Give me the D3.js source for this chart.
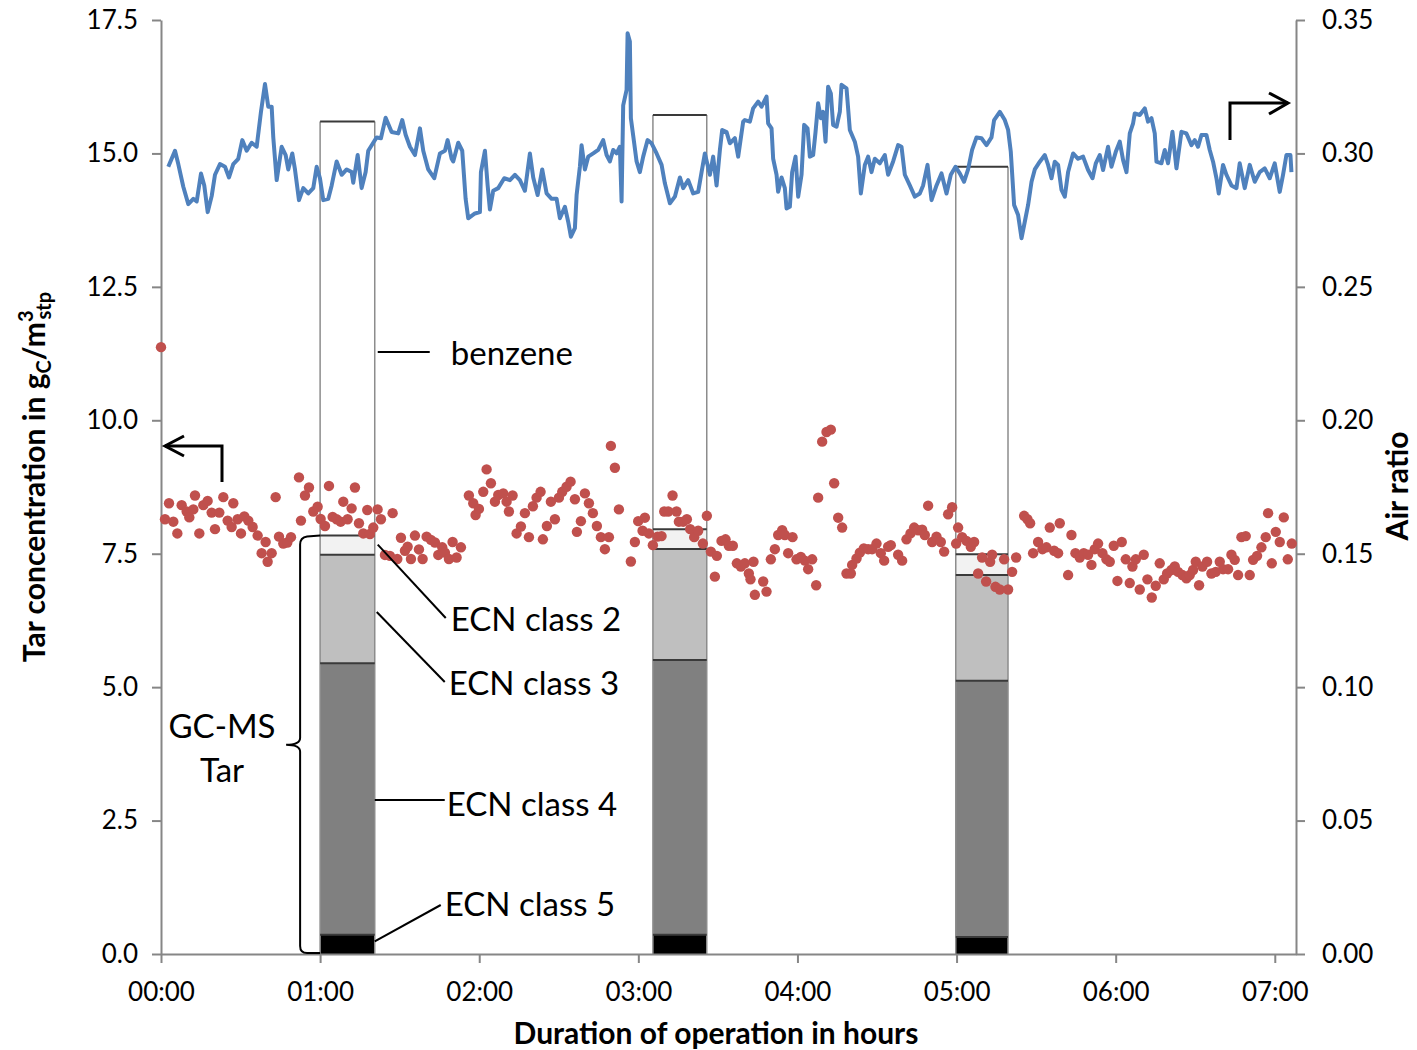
<!DOCTYPE html>
<html>
	<head>
		<title>Tar and air ratio</title>
		<style>
			body, html { margin: 0; padding: 0; background: #fff; }
			text { font-family: Lato, 'Open Sans', sans-serif; }
		</style>
	</head>
	<body>

		<svg id="svg" width="1417" height="1050"></svg>

		<script src="https://d3js.org/d3.v7.min.js"></script>
		<script>
			// Air ratio (blue line) - time in minutes
			const airTime = [2.75,5.28,6.52,8.41,10.29,12.18,13.46,15.08,16.32,17.61,19.11,20.36,22.24,24.13,25.64,27.26,29.14,30.65,32.31,34.19,36.08,37.7,39.21,40.45,41.73,42.34,43.62,45.5,47.01,47.99,49.5,50.52,52.03,53.65,55.53,57.42,58.7,59.94,61.19,63.07,64.36,66.24,68.13,70.01,71.9,72.5,74.16,75.66,77.17,78.15,80.04,81.32,82.94,84.71,86.97,89.46,90.97,92.25,93.87,95.76,97.64,98.89,100.77,103.04,105.18,107.07,108.09,109.6,
				110.2,112.08,113.59,114.87,115.85,118.38,120.26,120.64,122.15,123.17,124.03,125.28,127.16,129.43,131.57,133.46,135.34,137.23,139.11,140.36,142.02,143.75,145.41,147.3,149.18,150.42,152.31,153.55,154.57,156.08,156.72,157.96,158.6,159.85,161.1,162.98,164.87,166.75,168.03,169.27,170.52,171.8,173.04,173.68,174.29,175.57,175.95,176.81,177.19,178.44,179.34,180.58,181.83,183.49,185.0,186.89,188.77,190.01,191.9,193.78,195.67,196.91,198.8,200.68,202.57,203.85,205.09,206.98,208.22,209.5,210.75,211.62,213.28,214.52,216.4,217.65,219.53,
				220.17,222.05,223.3,225.18,226.46,228.35,228.95,230.23,230.84,232.12,232.72,234.0,235.25,235.89,237.13,238.0,239.28,240.27,241.54,242.53,243.81,244.67,245.92,246.82,247.8,248.82,249.69,250.59,251.57,252.59,253.46,254.74,255.98,256.62,258.51,259.75,261.64,262.88,263.9,265.41,266.65,267.93,269.18,271.06,272.95,274.19,276.08,277.96,279.24,280.49,282.37,284.26,286.14,287.39,289.05,290.56,292.44,294.32,296.21,297.83,299.6,301.22,302.84,304.35,305.86,307.52,309.4,311.29,313.17,314.16,316.31,318.19,319.44,320.45,321.7,323.21,324.49,325.73,326.98,328.27,329.5,
				331.39,333.28,334.52,335.8,337.04,338.29,339.57,340.81,342.06,343.94,345.83,347.71,349.6,351.27,352.5,354.0,355.25,357.13,358.41,360.04,361.54,362.8,364.08,365.32,366.57,367.2,369.08,370.97,372.21,373.5,374.74,375.38,377.26,378.51,379.75,381.41,382.92,384.8,386.69,388.57,389.82,391.06,392.34,394.23,395.47,396.72,398.0,398.87,400.49,401.77,403.65,405.54,406.78,408.67,410.55,412.44,414.32,416.21,418.09,419.98,421.86,423.11,424.39,425.9,426.28]
			const airRatio = [0.295,0.301,0.296,0.2875,0.281,0.283,0.282,0.2925,0.288,0.278,0.284,0.292,0.296,0.295,0.291,0.296,0.298,0.305,0.301,0.304,0.3025,0.3156,0.326,0.3175,0.3175,0.306,0.290,0.3025,0.2994,0.294,0.300,0.294,0.2825,0.287,0.285,0.287,0.295,0.2907,0.2825,0.283,0.288,0.297,0.292,0.294,0.293,0.289,0.2994,0.287,0.293,0.301,0.304,0.306,0.3057,0.3134,0.308,0.3075,0.3125,0.307,0.3025,0.2994,0.3094,0.301,0.294,0.2907,0.300,0.301,0.305,0.298,
				0.297,0.304,0.301,0.283,0.2757,0.2775,0.278,0.293,0.301,0.288,0.279,0.286,0.287,0.2907,0.290,0.292,0.290,0.286,0.300,0.291,0.2844,0.294,0.285,0.283,0.283,0.2757,0.280,0.2744,0.2688,0.272,0.2844,0.295,0.3031,0.294,0.2988,0.300,0.3013,0.305,0.2994,0.297,0.3013,0.300,0.3025,0.282,0.318,0.3238,0.345,0.3419,0.3132,0.3038,0.297,0.293,0.2988,0.305,0.3038,0.300,0.2957,0.2888,0.2813,0.2838,0.291,0.287,0.290,0.285,0.2856,0.293,0.300,0.292,0.2988,0.288,0.3013,0.3088,0.308,0.3038,0.3057,0.2988,0.3119,
				0.3125,0.3119,0.3169,0.3194,0.3175,0.3213,0.3113,0.3094,0.298,0.292,0.2856,0.291,0.287,0.2794,0.280,0.293,0.2988,0.2838,0.292,0.3107,0.3094,0.2988,0.2994,0.308,0.3188,0.3132,0.3156,0.3044,0.325,0.3225,0.3107,0.310,0.3156,0.3257,0.3244,0.3088,0.3044,0.2988,0.285,0.2957,0.2988,0.293,0.298,0.2963,0.2994,0.292,0.297,0.3031,0.3025,0.292,0.288,0.2838,0.285,0.288,0.2957,0.2825,0.288,0.2925,0.285,0.292,0.295,0.2925,0.2894,0.294,0.3013,0.306,0.3057,0.3031,0.306,0.3125,0.3156,0.3125,0.3088,0.3006,0.2807,0.2769,0.2682,0.2744,0.2807,0.2894,0.294,
				0.2969,0.2994,0.2957,0.2907,0.2969,0.2957,0.2863,0.2838,0.293,0.300,0.298,0.2988,0.2938,0.2907,0.2963,0.2994,0.2938,0.3025,0.295,0.3006,0.3044,0.2975,0.293,0.3075,0.3113,0.315,0.3144,0.3169,0.3119,0.3132,0.3075,0.2969,0.2963,0.3013,0.2963,0.3081,0.2944,0.3081,0.3075,0.3031,0.305,0.3025,0.3069,0.3069,0.3013,0.2969,0.2907,0.285,0.2957,0.292,0.288,0.287,0.2963,0.287,0.2957,0.2894,0.293,0.2944,0.2907,0.2963,0.2856,0.292,0.2994,0.2994,0.293]

			// Tar concentration (red dots) - time in minutes, g/m3
			const tarTime = [0,1.51,3.02,4.65,6.16,7.79,9.68,10.68,12.19,12.82,14.45,15.96,17.59,19.1,20.36,21.99,23.5,25.13,26.64,27.27,28.9,30.16,31.42,32.92,34.56,36.44,37.95,39.46,40.21,41.72,43.23,44.49,46.12,47.63,49.01,52.03,52.78,54.29,55.8,57.43,59.06,60.19,61.83,63.34,64.72,66.23,67.74,68.74,70.37,71.88,73.14,74.65,76.28,77.79,78.79,80.05,81.68,82.94,84.45,86.33,87.34,89.1,90.48,91.99,93.0,94.25,95.76,97.27,98.65,100.16,101.79,103.3,104.55,106.06,107.07,108.58,109.96,111.47,113.1,
				116.1,117.75,118.63,119.89,121.52,122.78,124.41,125.92,127.17,129.06,130.32,131.2,132.58,134.09,135.72,137.23,138.74,140.24,141.63,143.14,144.01,145.52,147.03,148.54,150.05,151.3,152.94,154.45,156.08,156.83,158.34,159.85,161.36,162.86,164.37,165.88,167.39,168.9,169.65,171.16,172.67,177.19,178.7,179.95,181.59,182.47,183.98,185.48,187.24,188.75,189.76,191.27,192.9,194.41,195.29,196.92,198.3,199.56,201.07,202.57,204.33,205.84,207.35,208.86,209.61,211.37,212.88,214.14,215.64,217.15,218.66,220.17,221.67,222.3,223.43,223.94,
				227.08,228.34,229.97,231.48,232.73,234.24,235.25,236.5,238.14,239.65,241.28,242.79,244.04,245.55,247.06,247.81,249.32,250.96,252.59,253.85,255.36,256.86,258.5,260.13,260.63,262.27,263.52,265.03,266.66,268.17,269.81,271.44,272.7,274.2,275.21,277.97,279.48,281.12,282.63,284.01,285.52,287.03,288.03,289.28,290.79,292.43,294.06,295.32,296.82,298.33,299.84,300.59,302.1,303.74,305.37,306.63,308.13,309.64,311.15,312.66,313.41,314.67,316.3,317.94,319.44,320.95,322.46,325.48,326.73,327.74,328.87,
				330.75,332.39,333.9,335.15,336.79,338.29,338.92,342.06,343.32,344.83,346.46,347.97,349.6,350.86,352.11,353.37,355.01,356.52,357.77,359.28,360.66,362.3,363.81,365.31,366.32,367.58,369.08,370.59,371.97,373.61,375.11,376.62,378.13,379.39,381.02,382.28,383.54,385.17,386.68,387.93,389.19,390.2,391.45,392.71,394.47,396.1,397.74,399.25,400.5,402.39,403.65,404.9,406.16,407.42,409.05,410.56,411.82,413.32,414.96,416.59,417.47,418.87,420.37,421.88,423.39,424.9,426.41]
			const tarConc = [11.37,8.145,8.445,8.10,7.88,8.41,8.29,8.18,8.33,8.59,7.88,8.41,8.49,8.27,7.96,8.27,8.56,8.12,8.0,8.445,8.145,7.88,8.2,8.12,8.0,7.84,7.51,7.72,7.35,7.51,8.56,7.82,7.69,7.71,7.81,8.93,8.12,8.59,8.74,8.29,8.38,8.15,8.02,8.77,8.19,8.145,8.10,8.475,8.145,8.35,8.74,8.07,7.88,8.32,7.87,7.99,8.33,8.145,7.477,7.46,8.26,7.40,7.80,7.555,7.63,7.40,7.84,7.58,7.40,7.82,7.76,7.71,7.477,7.62,7.52,7.40,7.72,7.43,7.62,
				8.59,8.445,8.225,8.34,8.66,9.08,8.82,8.475,8.60,8.63,8.475,8.29,8.59,7.88,8.01,8.26,7.81,8.39,8.55,8.66,7.77,8.02,8.475,8.145,8.55,8.66,8.755,8.85,8.52,7.91,8.11,8.63,8.445,8.26,8.02,7.81,7.585,7.81,9.52,9.11,8.33,7.355,7.72,8.11,7.93,8.175,7.88,7.66,7.82,7.83,8.29,8.29,8.59,8.29,8.10,8.10,8.145,7.96,7.81,7.93,7.69,8.21,7.54,7.07,7.46,7.74,7.77,7.65,7.65,7.32,7.26,7.32,7.13,7.02,7.35,6.73,
				6.98,6.79,7.395,7.585,7.85,7.94,7.85,7.51,7.81,7.395,7.44,7.37,7.21,7.395,6.91,8.55,9.60,9.78,9.825,8.82,8.175,7.99,7.13,7.13,7.29,7.41,7.52,7.60,7.585,7.585,7.69,7.51,7.37,7.63,7.66,7.48,7.37,7.77,7.88,7.99,7.94,7.95,7.85,8.40,7.72,7.82,7.72,7.54,8.24,8.37,7.69,7.99,7.81,7.74,7.63,7.72,7.13,7.43,6.98,7.35,7.48,6.88,6.83,7.395,6.83,7.16,7.43,8.21,8.145,8.07,7.51,
				7.72,7.585,7.62,7.99,7.555,7.51,8.07,7.10,7.85,7.51,7.43,7.51,7.48,7.29,7.585,7.69,7.51,7.395,7.35,7.65,6.99,7.72,7.395,6.95,7.26,7.395,6.83,7.48,7.02,6.68,6.90,7.32,7.02,7.13,7.195,7.26,7.16,7.10,7.04,7.10,7.195,7.35,6.91,7.26,7.35,7.13,7.16,7.35,7.21,7.21,7.48,7.385,7.10,7.81,7.83,7.10,7.385,7.46,7.62,7.81,8.26,7.32,7.91,7.72,8.18,7.395,7.69]

			// GC-MS samples (stacked bars), start/end in minutes
			const sampleStart = [60, 185.5, 299.7]
			const sampleEnd = [80.6, 205.8, 319.4]
			const ecn5 = [0.36, 0.36, 0.32]
			const ecn4 = [5.09, 5.15, 4.80]
			const ecn3 = [2.03, 2.08, 1.98]
			const ecn2 = [0.36, 0.37, 0.39]
			const benzene = [7.76, 7.76, 7.26]

			const hourTicks = [0, 60, 120, 180, 240, 300, 360, 420]
			const tarTicks = [0, 2.5, 5, 7.5, 10, 12.5, 15, 17.5]
			const airTicks = [0, 0.05, 0.10, 0.15, 0.20, 0.25, 0.30, 0.35]

			const svg = d3.select('#svg')

			const x = d3.scaleLinear().domain([0, 428]).range([161, 1296])
			const yL = d3.scaleLinear().domain([0, 17.5]).range([954, 20])
			const yR = d3.scaleLinear().domain([0, 0.35]).range([954, 20])

			const axisGrey = '#868686'

			// Stacked bars
			const keys = ['ecn5', 'ecn4', 'ecn3', 'ecn2', 'benzene']
			const fills = { ecn5: '#000000', ecn4: '#808080', ecn3: '#bfbfbf', ecn2: '#f2f2f2', benzene: '#ffffff' }
			const rows = sampleStart.map((s, i) => ({
				start: s, end: sampleEnd[i],
				ecn5: ecn5[i], ecn4: ecn4[i], ecn3: ecn3[i], ecn2: ecn2[i], benzene: benzene[i]
			}))
			const stacked = d3.stack().keys(keys)(rows)

			const bars = svg.append('g')
			stacked.forEach(layer => {
				bars.selectAll(null)
					.data(layer)
					.enter()
					.append('rect')
					.attr('x', d => x(d.data.start))
					.attr('width', d => x(d.data.end) - x(d.data.start))
					.attr('y', d => yL(d[1]))
					.attr('height', d => yL(d[0]) - yL(d[1]))
					.attr('fill', fills[layer.key])
			})
			// sides
			rows.forEach(r => {
				const top = yL(r.ecn5 + r.ecn4 + r.ecn3 + r.ecn2 + r.benzene)
				;[r.start, r.end].forEach(t => {
					bars.append('line')
						.attr('x1', x(t)).attr('x2', x(t))
						.attr('y1', top).attr('y2', yL(0))
						.attr('stroke', '#8c8c8c').attr('stroke-width', 1.5)
				})
			})
			// segment top edges
			stacked.forEach(layer => {
				bars.selectAll(null)
					.data(layer)
					.enter()
					.append('line')
					.attr('x1', d => x(d.data.start))
					.attr('x2', d => x(d.data.end))
					.attr('y1', d => yL(d[1]))
					.attr('y2', d => yL(d[1]))
					.attr('stroke', '#3a3a3a')
					.attr('stroke-width', 2)
			})

			// Axes
			const fmtHour = m => d3.format('02d')(m / 60) + ':00'

			const gx = svg.append('g')
				.attr('transform', 'translate(0,954)')
				.call(d3.axisBottom(x).tickValues(hourTicks).tickFormat(fmtHour).tickSize(9).tickSizeOuter(0).tickPadding(20))
			const gl = svg.append('g')
				.attr('transform', 'translate(161,0)')
				.call(d3.axisLeft(yL).tickValues(tarTicks).tickFormat(d3.format('.1f')).tickSize(9).tickSizeOuter(0).tickPadding(14))
			const gr = svg.append('g')
				.attr('transform', 'translate(1296,0)')
				.call(d3.axisRight(yR).tickValues(airTicks).tickFormat(d3.format('.2f')).tickSize(9).tickSizeOuter(0).tickPadding(17))

			;[gx, gl, gr].forEach(g => {
				g.select('.domain').attr('stroke', axisGrey).attr('stroke-width', 2)
				g.selectAll('.tick line').attr('stroke', axisGrey).attr('stroke-width', 2)
				g.selectAll('.tick text')
					.attr('font-family', 'Lato')
					.attr('font-size', 26)
					.attr('fill', '#000')
			})

			// Air ratio line
			const line = d3.line()
				.x((d, i) => x(airTime[i]))
				.y(d => yR(d))
			svg.append('path')
				.datum(airRatio)
				.attr('d', line)
				.attr('fill', 'none')
				.attr('stroke', '#4f81bd')
				.attr('stroke-width', 4)
				.attr('stroke-linejoin', 'round')

			// Tar dots
			svg.append('g')
				.selectAll('circle')
				.data(tarConc)
				.enter()
				.append('circle')
				.attr('cx', (d, i) => x(tarTime[i]))
				.attr('cy', d => yL(d))
				.attr('r', 5.2)
				.attr('fill', '#c0504d')

			// Annotations
			const ann = svg.append('g')
			const b0 = rows[0]
			const bx1 = x(b0.end)
			const lead = (x1, y1, x2, y2) => ann.append('line')
				.attr('x1', x1).attr('y1', y1).attr('x2', x2).attr('y2', y2)
				.attr('stroke', '#000').attr('stroke-width', 2)
			const label = (txt, tx, ty, anchor) => ann.append('text')
				.attr('x', tx).attr('y', ty)
				.attr('text-anchor', anchor || 'start')
				.attr('font-size', 33)
				.attr('fill', '#000')
				.text(txt)

			const top2 = b0.ecn5 + b0.ecn4 + b0.ecn3 + b0.ecn2
			lead(bx1 + 3, 352, bx1 + 55, 352)
			label('benzene', bx1 + 76, 365)
			lead(bx1 + 3, yL(top2) + 9, bx1 + 71, 618)
			label('ECN class 2', bx1 + 76, 631)
			lead(bx1 + 2, 612, bx1 + 70, 682)
			label('ECN class 3', bx1 + 74, 695)
			lead(bx1, 800, bx1 + 70, 800)
			label('ECN class 4', bx1 + 72, 816)
			lead(bx1, yL(b0.ecn5 / 2) - 3, bx1 + 66, 905)
			label('ECN class 5', bx1 + 70, 916)

			// brace for GC-MS tar
			const bl = x(b0.start)
			const yt = yL(top2), yb = yL(0), ym = (yt + yb) / 2
			const bxv = bl - 20
			ann.append('path')
				.attr('d', `M${bl},${yt} L${bxv + 7},${yt + 1} Q${bxv},${yt + 2} ${bxv},${yt + 9}
					L${bxv},${ym - 7} Q${bxv},${ym} ${bxv - 14},${ym} Q${bxv},${ym} ${bxv},${ym + 7}
					L${bxv},${yb - 8} Q${bxv},${yb - 1} ${bxv + 7},${yb - 1} L${bl},${yb - 1}`)
				.attr('fill', 'none')
				.attr('stroke', '#000')
				.attr('stroke-width', 2)
			label('GC-MS', 222, 738, 'middle')
			label('Tar', 222, 782, 'middle')

			// axis arrows
			const arrow = (pts, head) => {
				ann.append('path')
					.attr('d', d3.line()(pts))
					.attr('fill', 'none').attr('stroke', '#000').attr('stroke-width', 3)
				ann.append('path')
					.attr('d', d3.line()(head))
					.attr('fill', 'none').attr('stroke', '#000').attr('stroke-width', 3)
			}
			arrow([[222, 482], [222, 446], [165, 446]], [[184, 436], [165, 446], [184, 456]])
			arrow([[1230, 140], [1230, 103], [1288, 103]], [[1269, 93], [1288, 103], [1269, 114]])

			// Axis titles
			svg.append('text')
				.attr('x', 716).attr('y', 1044)
				.attr('text-anchor', 'middle')
				.attr('font-size', 30)
				.attr('font-weight', 'bold')
				.text('Duration of operation in hours')

			const yt1 = svg.append('text')
				.attr('transform', 'translate(45,477) rotate(-90)')
				.attr('text-anchor', 'middle')
				.attr('font-size', 30)
				.attr('font-weight', 'bold')
			yt1.append('tspan').text('Tar concentration in g')
			yt1.append('tspan').attr('font-size', 20).attr('dy', 6).text('C')
			yt1.append('tspan').attr('dy', -6).text('/m')
			yt1.append('tspan').attr('font-size', 20).attr('dy', -12).text('3')
			yt1.append('tspan').attr('font-size', 20).attr('dy', 18).attr('dx', -9).text('stp')

			svg.append('text')
				.attr('transform', 'translate(1408,486) rotate(-90)')
				.attr('text-anchor', 'middle')
				.attr('font-size', 30)
				.attr('font-weight', 'bold')
				.text('Air ratio')
		</script>
	</body>
</html>
